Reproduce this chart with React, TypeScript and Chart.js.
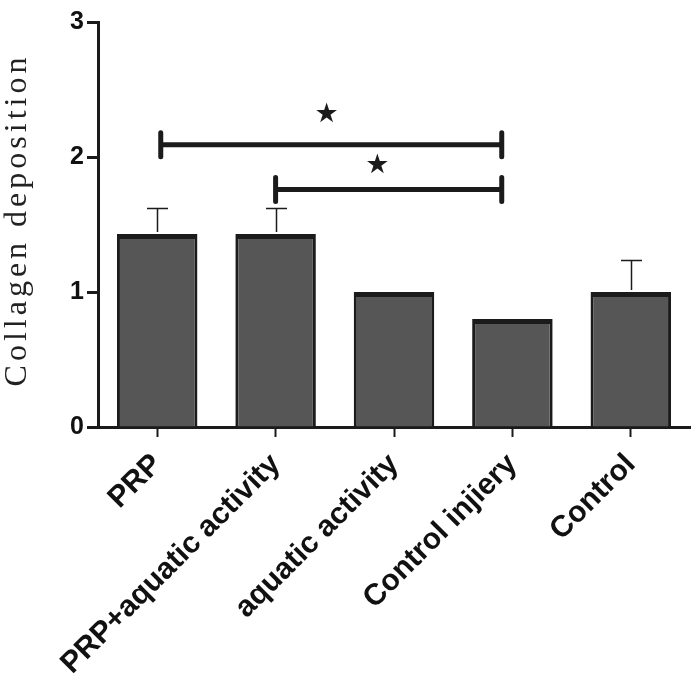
import { useEffect, useRef } from 'react';
import { Chart, registerables } from 'chart.js';

Chart.register(...registerables);

// ---- data ----
const categories = ['PRP', 'PRP+aquatic activity', 'aquatic activity', 'Control injiery', 'Control'];
const means = [1.43, 1.43, 1.0, 0.8, 1.0];
const sems = [0.19, 0.19, 0, 0, 0.24];
const yTicks = [0, 1, 2, 3];
const yTitle = 'Collagen deposition';
// significance brackets (category-index units / data units)
const bracketStart = [0.03, 1.0];
const bracketEnd = [2.91, 2.91];
const bracketLevel = [2.09, 1.76];
const starX = [1.43, 1.86];
const starY = [2.31, 1.93];

const INK = '#1b1b1b';
const FILL = '#565656';

const overlay = {
  id: 'overlay',
  afterDatasetsDraw(chart: any) {
    const { ctx } = chart;
    const x = chart.scales.x;
    const y = chart.scales.y;
    ctx.save();
    ctx.strokeStyle = INK;
    ctx.fillStyle = INK;
    // error bars
    ctx.lineWidth = 1.5;
    means.forEach((m, i) => {
      if (!sems[i]) return;
      const px = Math.round(x.getPixelForValue(i)) + 0.5;
      const base = y.getPixelForValue(m) - 2;
      const top = Math.round(y.getPixelForValue(m + sems[i])) + 0.5;
      ctx.beginPath();
      ctx.moveTo(px, base);
      ctx.lineTo(px, top);
      ctx.moveTo(px - 10.5, top);
      ctx.lineTo(px + 10.5, top);
      ctx.stroke();
    });
    // brackets
    bracketLevel.forEach((lvl, i) => {
      const x0 = x.getPixelForValue(bracketStart[i]);
      const x1 = x.getPixelForValue(bracketEnd[i]);
      const py = y.getPixelForValue(lvl);
      ctx.lineWidth = 5;
      ctx.beginPath();
      ctx.moveTo(x0, py);
      ctx.lineTo(x1, py);
      ctx.stroke();
      ctx.lineWidth = 5;
      ctx.lineCap = 'round';
      ctx.beginPath();
      ctx.moveTo(x0, py - 12);
      ctx.lineTo(x0, py + 12);
      ctx.moveTo(x1, py - 12);
      ctx.lineTo(x1, py + 12);
      ctx.stroke();
      ctx.lineCap = 'butt';
    });
    // stars
    ctx.font = '27px "DejaVu Sans"';
    ctx.textAlign = 'center';
    ctx.textBaseline = 'middle';
    starX.forEach((sx, i) => {
      ctx.fillText('\u2605', x.getPixelForValue(sx), y.getPixelForValue(starY[i]));
    });
    ctx.restore();
  },
  afterDraw(chart: any) {
    const { ctx, chartArea } = chart;
    ctx.save();
    ctx.translate(18, chartArea.top + 198);
    ctx.rotate(-Math.PI / 2);
    ctx.font = '32px "Liberation Serif"';
    (ctx as any).letterSpacing = '4px';
    ctx.fillStyle = '#222';
    ctx.textAlign = 'center';
    ctx.textBaseline = 'middle';
    ctx.fillText(yTitle, 0, 0);
    ctx.restore();
  },
};

export default function App() {
  const ref = useRef<HTMLCanvasElement>(null);

  useEffect(() => {
    if (!ref.current) return;
    const chart = new Chart(ref.current, {
      type: 'bar',
      data: {
        labels: categories,
        datasets: [
          {
            data: means,
            backgroundColor: FILL,
            borderColor: INK,
            borderWidth: { top: 5, left: 3, right: 3, bottom: 0 } as any,
            borderSkipped: false,
            barPercentage: 0.68,
            categoryPercentage: 1,
          },
        ],
      },
      options: {
        responsive: false,
        animation: false,
        layout: { padding: { top: 22, right: 7, left: 0, bottom: 0 } },
        plugins: {
          legend: { display: false },
          tooltip: { enabled: false },
          title: { display: false },
        },
        scales: {
          x: {
            grid: {
              drawOnChartArea: false,
              offset: false,
              tickLength: 10,
              tickWidth: 2,
              tickColor: INK,
            },
            border: { display: true, width: 3, color: INK },
            ticks: {
              autoSkip: false,
              minRotation: 45,
              maxRotation: 45,
              padding: 10,
              color: '#111',
              font: { family: '"Liberation Sans", Arial', size: 30, weight: 'bold' },
            },
            afterFit: (s: any) => {
              s.height = 258;
            },
          },
          y: {
            min: 0,
            max: 3,
            afterBuildTicks: (s: any) => {
              s.ticks = yTicks.map((v) => ({ value: v }));
            },
            grid: {
              drawOnChartArea: false,
              tickLength: 11,
              tickWidth: 3,
              tickColor: INK,
            },
            border: { display: true, width: 3, color: INK },
            ticks: {
              padding: 3,
              color: '#111',
              font: { family: '"Liberation Sans", Arial', size: 25, weight: 'bold' },
            },
            afterFit: (s: any) => {
              s.width = 98;
            },
          },
        },
      },
      plugins: [overlay],
    });
    return () => chart.destroy();
  }, []);

  return (
    <div style={{ position: 'absolute', left: 0, top: 0, width: 697, height: 685, background: '#fff' }}>
      <canvas ref={ref} width={697} height={685} />
    </div>
  );
}
